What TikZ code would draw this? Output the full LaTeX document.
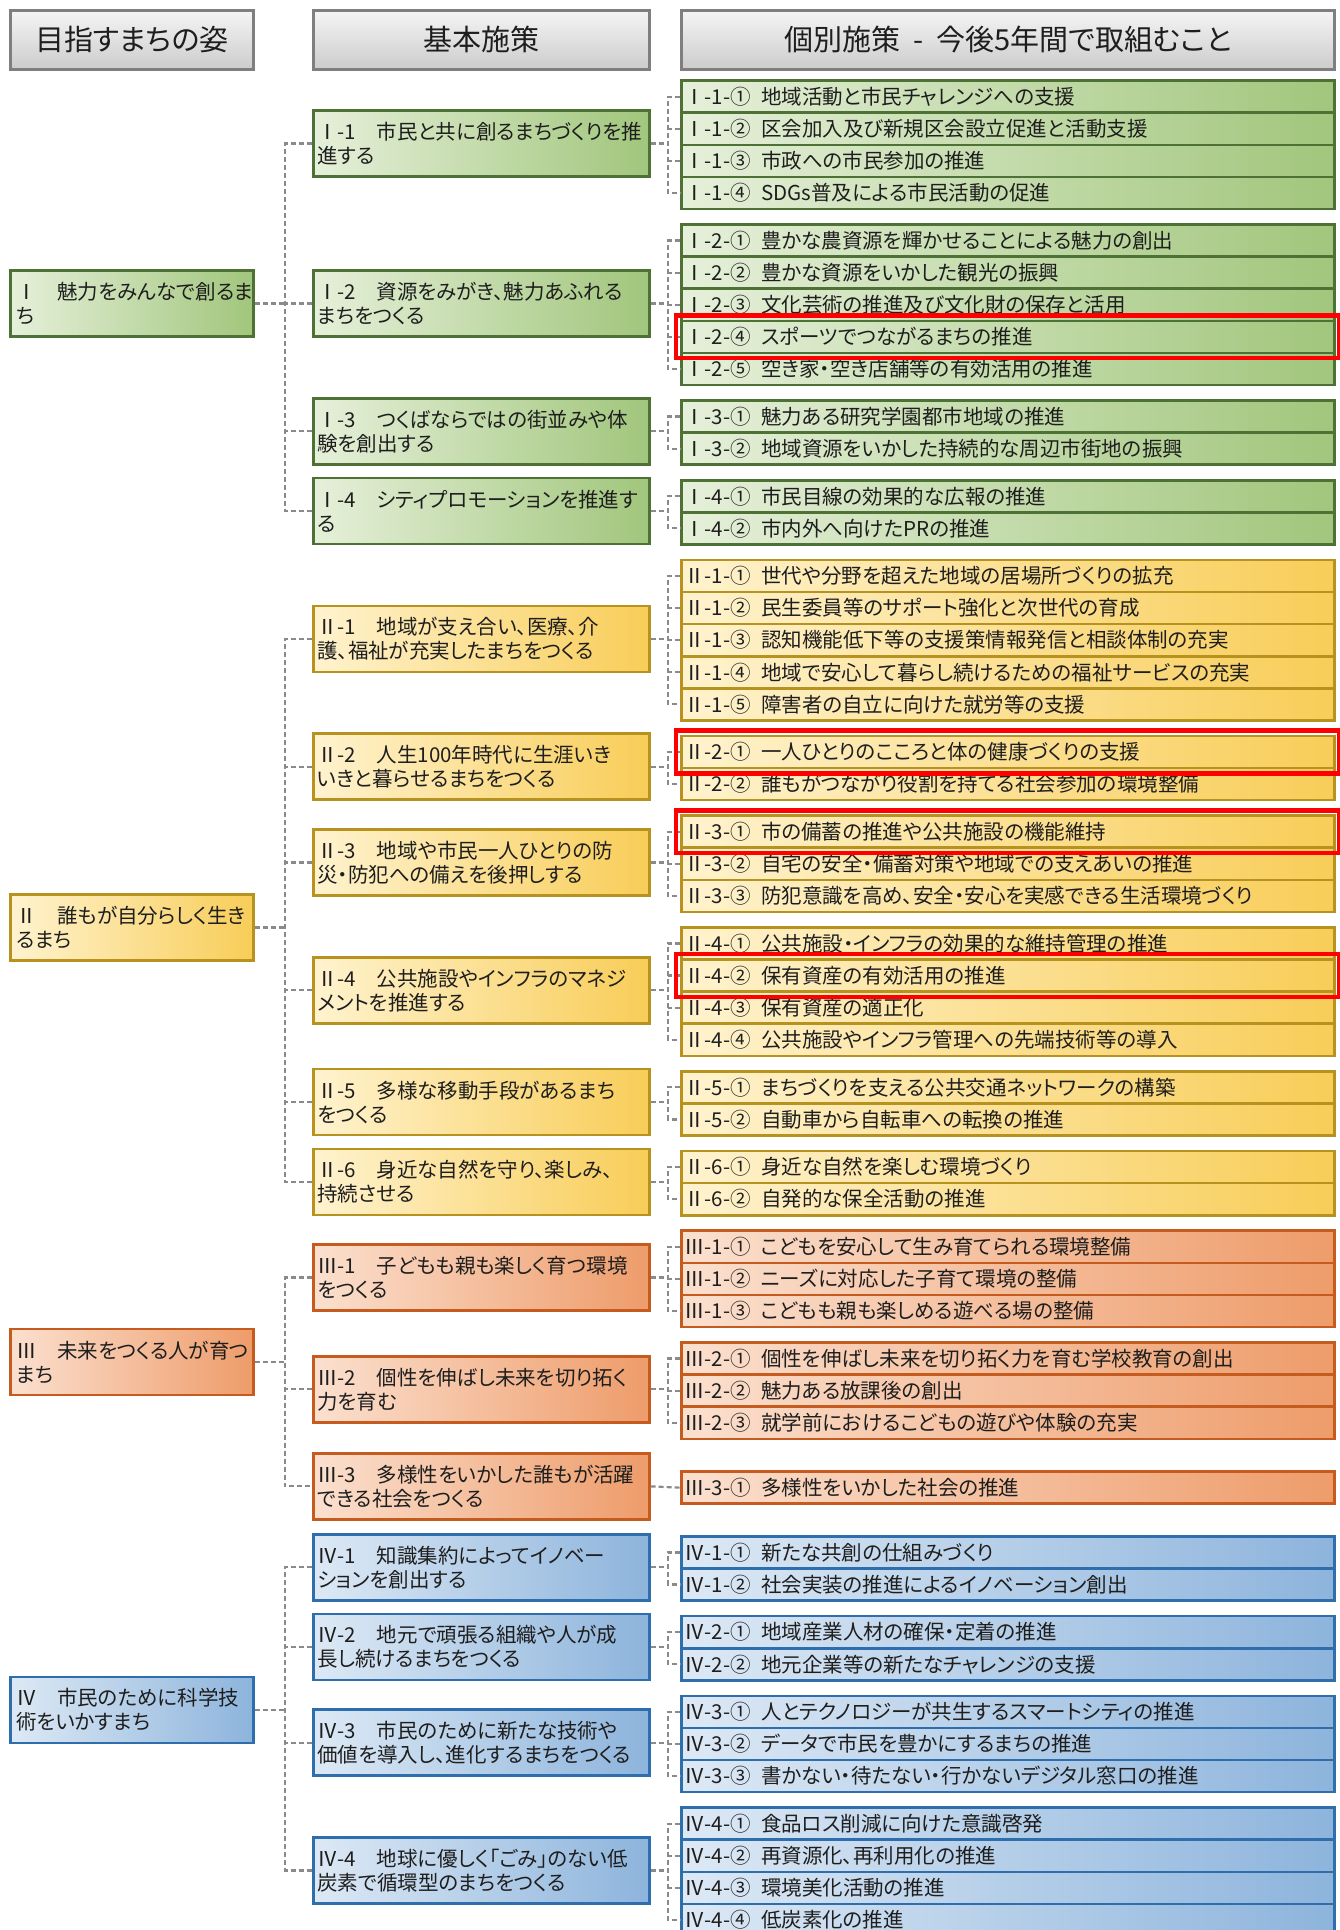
\documentclass[tikz,border=0pt]{standalone}
\usepackage{fontspec}
\setmainfont{Noto Sans CJK JP}[RawFeature=+palt]
\usepackage{tikz}
\usetikzlibrary{fit}
\definecolor{txt}{HTML}{1E1E1E}
\definecolor{hdrline}{HTML}{7F7F7F}
\definecolor{linkgray}{HTML}{8A8A8A}
\definecolor{grnline}{HTML}{4E7235}
\definecolor{grnL}{HTML}{E6F0DA}
\definecolor{grnR}{HTML}{A1C67C}
\definecolor{ylwline}{HTML}{B8921E}
\definecolor{ylwL}{HTML}{FFF3CF}
\definecolor{ylwR}{HTML}{F8CD58}
\definecolor{orgline}{HTML}{C65B1F}
\definecolor{orgL}{HTML}{FBE0CF}
\definecolor{orgR}{HTML}{EE9C6A}
\definecolor{bluline}{HTML}{2F6EAD}
\definecolor{bluL}{HTML}{DDE9F5}
\definecolor{bluR}{HTML}{8DB4DC}
\exhyphenpenalty=10000
\hyphenpenalty=10000

\begin{document}
\begin{tikzpicture}[
    x=1pt, y=-1pt,
    font=\fontsize{20.5}{24}\selectfont,
    every node/.style={text=txt},
    box/.style={rectangle, line width=2.6pt, inner ysep=0pt},
    hdr/.style={box, draw=hdrline, top color=gray!8, bottom color=gray!40, anchor=north west,
                minimum height=59pt, font=\fontsize{29}{32}\selectfont},
    goal/.style={box, anchor=west, text width=231pt, inner xsep=6pt, align=left, minimum height=66pt},
    base/.style={box, anchor=west, text width=328pt, inner xsep=4pt, align=left, minimum height=66pt},
    item/.style={box, anchor=north west, text width=647pt, inner xsep=3pt, align=left, minimum height=32.1pt},
    grn/.style={draw=grnline, left color=grnL, right color=grnR},
    ylw/.style={draw=ylwline, left color=ylwL, right color=ylwR},
    org/.style={draw=orgline, left color=orgL, right color=orgR},
    blu/.style={draw=bluline, left color=bluL, right color=bluR},
    link/.style={draw=linkgray, line width=2.2pt, dash pattern=on 5pt off 3pt},
    hilite/.style={draw=red, line width=4.5pt, inner xsep=4pt, inner ysep=4pt}
  ]
  % ---- page: 1340 x 1930, 1pt per pixel, y downwards ----
  \fill[white] (0,0) rectangle (1340,1930);
  \useasboundingbox (0,0) rectangle (1340,1930);
  \coordinate (j1) at (285,0);
  \coordinate (j2) at (668,0);

  % ---- column heads ----
  \node[hdr, minimum width=243pt] (h1) at (9,9) {目指すまちの姿};
  \node[hdr, minimum width=336pt] (h2) at (312,9) {基本施策};
  \node[hdr, minimum width=653pt] (h3) at (680,9) {個別施策\ \ -\ \ 今後5年間で取組むこと};

  % ---- goals ----
  \node[goal, grn] (g1) at (9,303.45) {Ⅰ　魅力をみんなで創るま\\ち};
  \node[goal, ylw] (g2) at (9,927.5) {Ⅱ　誰もが自分らしく生き\\るまち};
  \node[goal, org] (g3) at (9,1362) {Ⅲ　未来をつくる人が育つ\\まち};
  \node[goal, blu] (g4) at (9,1710) {Ⅳ　市民のために科学技\\術をいかすまち};

  % ---- basic measures ----
  \node[base, grn] (b11) at (312,143.5) {Ⅰ-1　市民と共に創るまちづくりを推\\進する};
  \node[base, grn] (b12) at (312,303.45) {Ⅰ-2　資源をみがき、魅力あふれる\\まちをつくる};
  \node[base, grn] (b13) at (312,431.3) {Ⅰ-3　つくばならではの街並みや体\\験を創出する};
  \node[base, grn] (b14) at (312,511.0) {Ⅰ-4　シティプロモーションを推進す\\る};
  \node[base, ylw] (b21) at (312,638.85) {Ⅱ-1　地域が支え合い、医療、介\\護、福祉が充実したまちをつくる};
  \node[base, ylw] (b22) at (312,766.7) {Ⅱ-2　人生100年時代に生涯いき\\いきと暮らせるまちをつくる};
  \node[base, ylw] (b23) at (312,862.45) {Ⅱ-3　地域や市民一人ひとりの防\\災・防犯への備えを後押しする};
  \node[base, ylw] (b24) at (312,990.3) {Ⅱ-4　公共施設やインフラのマネジ\\メントを推進する};
  \node[base, ylw] (b25) at (312,1102.1) {Ⅱ-5　多様な移動手段があるまち\\をつくる};
  \node[base, ylw] (b26) at (312,1181.8) {Ⅱ-6　身近な自然を守り、楽しみ、\\持続させる};
  \node[base, org] (b31) at (312,1277.55) {Ⅲ-1　子どもも親も楽しく育つ環境\\をつくる};
  \node[base, org] (b32) at (312,1389.35) {Ⅲ-2　個性を伸ばし未来を切り拓く\\力を育む};
  \node[base, org] (b33) at (312,1486.35) {Ⅲ-3　多様性をいかした誰もが活躍\\できる社会をつくる};
  \node[base, blu] (b41) at (312,1567.2) {Ⅳ-1　知識集約によってイノベー\\ションを創出する};
  \node[base, blu] (b42) at (312,1646.9) {Ⅳ-2　地元で頑張る組織や人が成\\長し続けるまちをつくる};
  \node[base, blu] (b43) at (312,1742.65) {Ⅳ-3　市民のために新たな技術や\\価値を導入し、進化するまちをつくる};
  \node[base, blu] (b44) at (312,1870.5) {Ⅳ-4　地球に優しく「ごみ」のない低\\炭素で循環型のまちをつくる};

  % ---- individual measures ----
  \node[item, grn] (s111) at (680,79.3) {Ⅰ-1-①\enspace 地域活動と市民チャレンジへの支援};
  \node[item, grn] (s112) at (680,111.4) {Ⅰ-1-②\enspace 区会加入及び新規区会設立促進と活動支援};
  \node[item, grn] (s113) at (680,143.5) {Ⅰ-1-③\enspace 市政への市民参加の推進};
  \node[item, grn] (s114) at (680,175.6) {Ⅰ-1-④\enspace SDGs普及による市民活動の促進};
  \node[item, grn] (s121) at (680,223.2) {Ⅰ-2-①\enspace 豊かな農資源を輝かせることによる魅力の創出};
  \node[item, grn] (s122) at (680,255.3) {Ⅰ-2-②\enspace 豊かな資源をいかした観光の振興};
  \node[item, grn] (s123) at (680,287.4) {Ⅰ-2-③\enspace 文化芸術の推進及び文化財の保存と活用};
  \node[item, grn] (s124) at (680,319.5) {Ⅰ-2-④\enspace スポーツでつながるまちの推進};
  \node[item, grn] (s125) at (680,351.6) {Ⅰ-2-⑤\enspace 空き家・空き店舗等の有効活用の推進};
  \node[item, grn] (s131) at (680,399.2) {Ⅰ-3-①\enspace 魅力ある研究学園都市地域の推進};
  \node[item, grn] (s132) at (680,431.3) {Ⅰ-3-②\enspace 地域資源をいかした持続的な周辺市街地の振興};
  \node[item, grn] (s141) at (680,478.9) {Ⅰ-4-①\enspace 市民目線の効果的な広報の推進};
  \node[item, grn] (s142) at (680,511.0) {Ⅰ-4-②\enspace 市内外へ向けたPRの推進};

  \node[item, ylw] (s211) at (680,558.6) {Ⅱ-1-①\enspace 世代や分野を超えた地域の居場所づくりの拡充};
  \node[item, ylw] (s212) at (680,590.7) {Ⅱ-1-②\enspace 民生委員等のサポート強化と次世代の育成};
  \node[item, ylw] (s213) at (680,622.8) {Ⅱ-1-③\enspace 認知機能低下等の支援策情報発信と相談体制の充実};
  \node[item, ylw] (s214) at (680,654.9) {Ⅱ-1-④\enspace 地域で安心して暮らし続けるための福祉サービスの充実};
  \node[item, ylw] (s215) at (680,687.0) {Ⅱ-1-⑤\enspace 障害者の自立に向けた就労等の支援};
  \node[item, ylw] (s221) at (680,734.6) {Ⅱ-2-①\enspace 一人ひとりのこころと体の健康づくりの支援};
  \node[item, ylw] (s222) at (680,766.7) {Ⅱ-2-②\enspace 誰もがつながり役割を持てる社会参加の環境整備};
  \node[item, ylw] (s231) at (680,814.3) {Ⅱ-3-①\enspace 市の備蓄の推進や公共施設の機能維持};
  \node[item, ylw] (s232) at (680,846.4) {Ⅱ-3-②\enspace 自宅の安全・備蓄対策や地域での支えあいの推進};
  \node[item, ylw] (s233) at (680,878.5) {Ⅱ-3-③\enspace 防犯意識を高め、安全・安心を実感できる生活環境づくり};
  \node[item, ylw] (s241) at (680,926.1) {Ⅱ-4-①\enspace 公共施設・インフラの効果的な維持管理の推進};
  \node[item, ylw] (s242) at (680,958.2) {Ⅱ-4-②\enspace 保有資産の有効活用の推進};
  \node[item, ylw] (s243) at (680,990.3) {Ⅱ-4-③\enspace 保有資産の適正化};
  \node[item, ylw] (s244) at (680,1022.4) {Ⅱ-4-④\enspace 公共施設やインフラ管理への先端技術等の導入};
  \node[item, ylw] (s251) at (680,1070.0) {Ⅱ-5-①\enspace まちづくりを支える公共交通ネットワークの構築};
  \node[item, ylw] (s252) at (680,1102.1) {Ⅱ-5-②\enspace 自動車から自転車への転換の推進};
  \node[item, ylw] (s261) at (680,1149.7) {Ⅱ-6-①\enspace 身近な自然を楽しむ環境づくり};
  \node[item, ylw] (s262) at (680,1181.8) {Ⅱ-6-②\enspace 自発的な保全活動の推進};

  \node[item, org] (s311) at (680,1229.4) {Ⅲ-1-①\enspace こどもを安心して生み育てられる環境整備};
  \node[item, org] (s312) at (680,1261.5) {Ⅲ-1-②\enspace ニーズに対応した子育て環境の整備};
  \node[item, org] (s313) at (680,1293.6) {Ⅲ-1-③\enspace こどもも親も楽しめる遊べる場の整備};
  \node[item, org] (s321) at (680,1341.2) {Ⅲ-2-①\enspace 個性を伸ばし未来を切り拓く力を育む学校教育の創出};
  \node[item, org] (s322) at (680,1373.3) {Ⅲ-2-②\enspace 魅力ある放課後の創出};
  \node[item, org] (s323) at (680,1405.4) {Ⅲ-2-③\enspace 就学前におけるこどもの遊びや体験の充実};
  \node[item, org] (s331) at (680,1470.3) {Ⅲ-3-①\enspace 多様性をいかした社会の推進};

  \node[item, blu] (s411) at (680,1535.1) {Ⅳ-1-①\enspace 新たな共創の仕組みづくり};
  \node[item, blu] (s412) at (680,1567.2) {Ⅳ-1-②\enspace 社会実装の推進によるイノベーション創出};
  \node[item, blu] (s421) at (680,1614.8) {Ⅳ-2-①\enspace 地域産業人材の確保・定着の推進};
  \node[item, blu] (s422) at (680,1646.9) {Ⅳ-2-②\enspace 地元企業等の新たなチャレンジの支援};
  \node[item, blu] (s431) at (680,1694.5) {Ⅳ-3-①\enspace 人とテクノロジーが共生するスマートシティの推進};
  \node[item, blu] (s432) at (680,1726.6) {Ⅳ-3-②\enspace データで市民を豊かにするまちの推進};
  \node[item, blu] (s433) at (680,1758.7) {Ⅳ-3-③\enspace 書かない・待たない・行かないデジタル窓口の推進};
  \node[item, blu] (s441) at (680,1806.3) {Ⅳ-4-①\enspace 食品ロス削減に向けた意識啓発};
  \node[item, blu] (s442) at (680,1838.4) {Ⅳ-4-②\enspace 再資源化、再利用化の推進};
  \node[item, blu] (s443) at (680,1870.5) {Ⅳ-4-③\enspace 環境美化活動の推進};
  \node[item, blu] (s444) at (680,1902.6) {Ⅳ-4-④\enspace 低炭素化の推進};

  % ---- goal -> basic measures ----
  \draw[link] (b11.west) -| (j1 |- b14.west) -- (b14.west);
  \draw[link] (b12.west) -- (b12.west -| j1) (b13.west) -- (b13.west -| j1);
  \draw[link] (g1.east) -- (g1.east -| j1);
  \draw[link] (b21.west) -| (j1 |- b26.west) -- (b26.west);
  \draw[link] (b22.west) -- (b22.west -| j1) (b23.west) -- (b23.west -| j1)
              (b24.west) -- (b24.west -| j1) (b25.west) -- (b25.west -| j1);
  \draw[link] (g2.east) -- (g2.east -| j1);
  \draw[link] (b31.west) -| (j1 |- b33.west) -- (b33.west);
  \draw[link] (b32.west) -- (b32.west -| j1);
  \draw[link] (g3.east) -- (g3.east -| j1);
  \draw[link] (b41.west) -| (j1 |- b44.west) -- (b44.west);
  \draw[link] (b42.west) -- (b42.west -| j1) (b43.west) -- (b43.west -| j1);
  \draw[link] (g4.east) -- (g4.east -| j1);

  % ---- basic measures -> individual measures ----
  \draw[link] (s111.west) -| (j2 |- s114.west) -- (s114.west);
  \draw[link] (s112.west) -- (s112.west -| j2) (s113.west) -- (s113.west -| j2);
  \draw[link] (b11.east) -- (b11.east -| j2);
  \draw[link] (s121.west) -| (j2 |- s125.west) -- (s125.west);
  \draw[link] (s122.west) -- (s122.west -| j2) (s123.west) -- (s123.west -| j2)
              (s124.west) -- (s124.west -| j2);
  \draw[link] (b12.east) -- (b12.east -| j2);
  \draw[link] (s131.west) -| (j2 |- s132.west) -- (s132.west);
  \draw[link] (b13.east) -- (b13.east -| j2);
  \draw[link] (s141.west) -| (j2 |- s142.west) -- (s142.west);
  \draw[link] (b14.east) -- (b14.east -| j2);

  \draw[link] (s211.west) -| (j2 |- s215.west) -- (s215.west);
  \draw[link] (s212.west) -- (s212.west -| j2) (s213.west) -- (s213.west -| j2)
              (s214.west) -- (s214.west -| j2);
  \draw[link] (b21.east) -- (b21.east -| j2);
  \draw[link] (s221.west) -| (j2 |- s222.west) -- (s222.west);
  \draw[link] (b22.east) -- (b22.east -| j2);
  \draw[link] (s231.west) -| (j2 |- s233.west) -- (s233.west);
  \draw[link] (s232.west) -- (s232.west -| j2);
  \draw[link] (b23.east) -- (b23.east -| j2);
  \draw[link] (s241.west) -| (j2 |- s244.west) -- (s244.west);
  \draw[link] (s242.west) -- (s242.west -| j2) (s243.west) -- (s243.west -| j2);
  \draw[link] (b24.east) -- (b24.east -| j2);
  \draw[link] (s251.west) -| (j2 |- s252.west) -- (s252.west);
  \draw[link] (b25.east) -- (b25.east -| j2);
  \draw[link] (s261.west) -| (j2 |- s262.west) -- (s262.west);
  \draw[link] (b26.east) -- (b26.east -| j2);

  \draw[link] (s311.west) -| (j2 |- s313.west) -- (s313.west);
  \draw[link] (s312.west) -- (s312.west -| j2);
  \draw[link] (b31.east) -- (b31.east -| j2);
  \draw[link] (s321.west) -| (j2 |- s323.west) -- (s323.west);
  \draw[link] (s322.west) -- (s322.west -| j2);
  \draw[link] (b32.east) -- (b32.east -| j2);
  \draw[link] (b33.east) -- (s331.west);

  \draw[link] (s411.west) -| (j2 |- s412.west) -- (s412.west);
  \draw[link] (b41.east) -- (b41.east -| j2);
  \draw[link] (s421.west) -| (j2 |- s422.west) -- (s422.west);
  \draw[link] (b42.east) -- (b42.east -| j2);
  \draw[link] (s431.west) -| (j2 |- s433.west) -- (s433.west);
  \draw[link] (s432.west) -- (s432.west -| j2);
  \draw[link] (b43.east) -- (b43.east -| j2);
  \draw[link] (s441.west) -| (j2 |- s444.west) -- (s444.west);
  \draw[link] (s442.west) -- (s442.west -| j2) (s443.west) -- (s443.west -| j2);
  \draw[link] (b44.east) -- (b44.east -| j2);

  % ---- red frames ----
  \node[hilite, fit=(s124)] (hl1) {};
  \node[hilite, fit=(s221)] (hl2) {};
  \node[hilite, fit=(s231)] (hl3) {};
  \node[hilite, fit=(s242)] (hl4) {};
\end{tikzpicture}
\end{document}
